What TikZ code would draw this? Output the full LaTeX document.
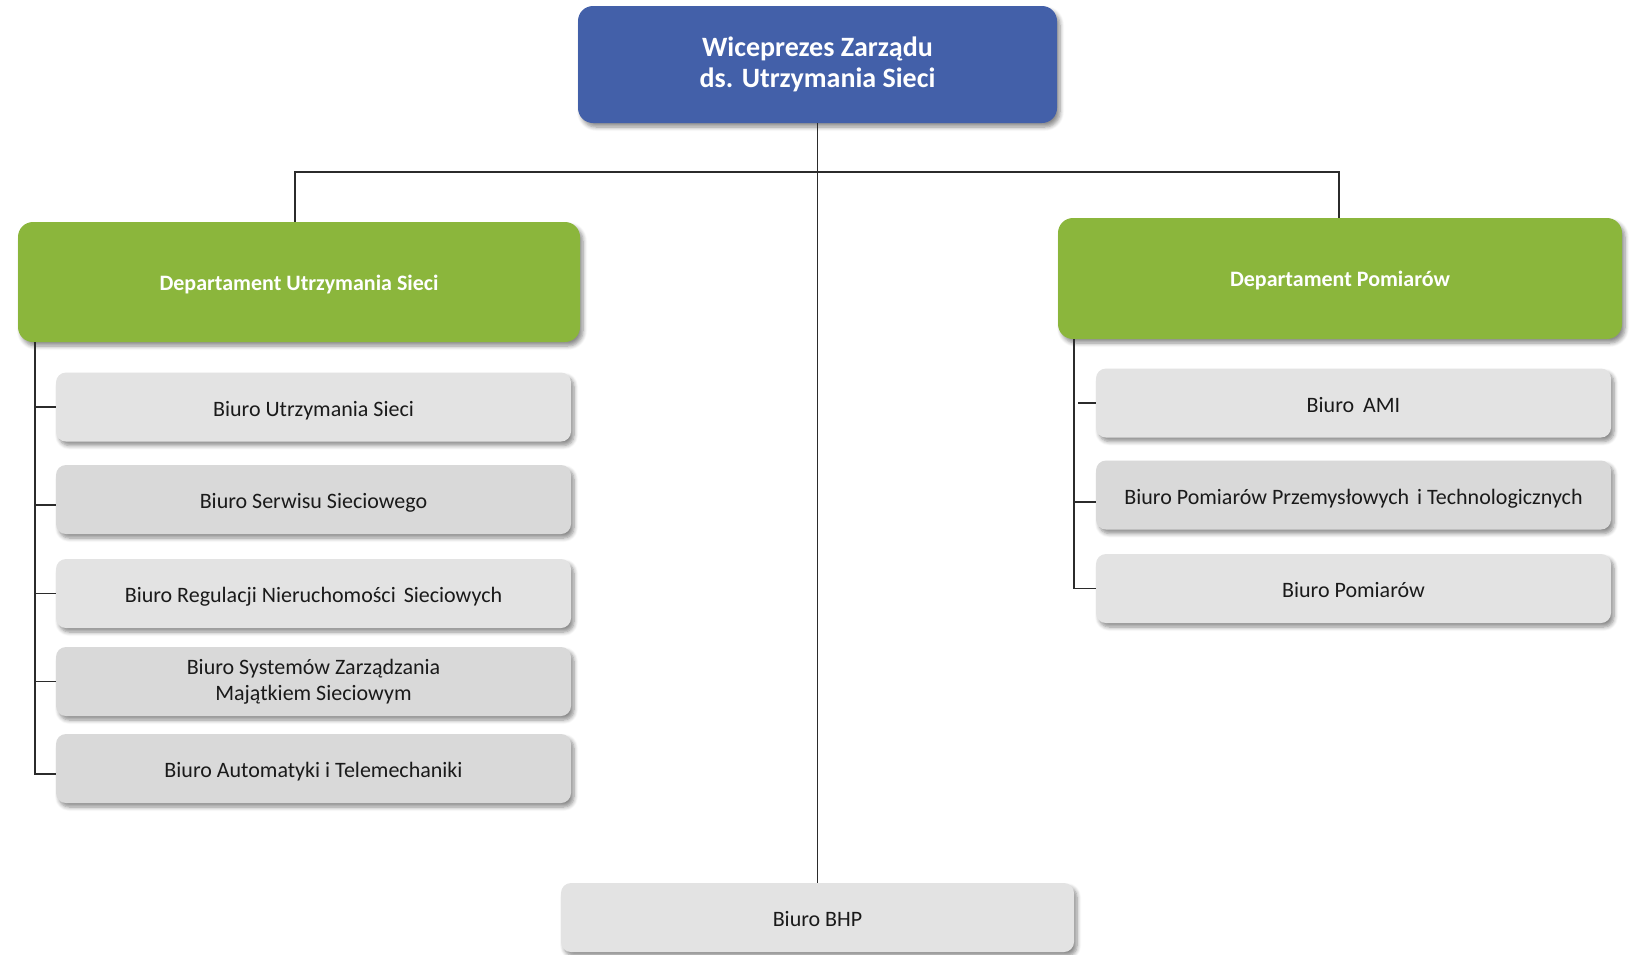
\documentclass[tikz,border=0pt]{standalone}
\usepackage{fontspec}
\setmainfont{Carlito}
\usetikzlibrary{shadows.blur,calc}
\definecolor{topblue}{HTML}{4360A9}
\definecolor{depgreen}{HTML}{8BB63C}
\definecolor{boxlight}{HTML}{E3E3E3}
\definecolor{boxdark}{HTML}{D9D9D9}
\definecolor{linec}{HTML}{2B2B2B}
\definecolor{txt}{HTML}{1A1A1A}
\tikzset{
  sh/.style={blur shadow={shadow xshift=3pt,shadow yshift=-4pt,shadow blur steps=6,shadow opacity=45,shadow blur radius=4pt}},
  topbox/.style={sh,fill=topblue,rounded corners=15pt,text=white,align=center,inner sep=0pt,
    font=\fontsize{28}{31}\selectfont\bfseries},
  depbox/.style={sh,fill=depgreen,rounded corners=15pt,text=white,align=center,inner sep=0pt,
    text height=18pt,text depth=2pt,font=\fontsize{22}{27}\selectfont\bfseries},
  grey/.style={sh,fill=boxlight,rounded corners=10pt,text=txt,align=center,inner sep=0pt,
    minimum width=515pt,minimum height=69pt,font=\fontsize{22}{26}\selectfont},
  greyd/.style={grey,fill=boxdark},
  one/.style={text height=20pt,text depth=2pt},
  conn/.style={draw=linec,line width=1.6pt}
}
\begin{document}
\begin{tikzpicture}[x=1pt,y=-1pt]
\useasboundingbox (0,0) rectangle (1634,954);
% boxes
\node[topbox,minimum width=479pt,minimum height=117pt] (top) at (817.5,64.5) {Wiceprezes Zarządu\\ds. Utrzymania Sieci};
\node[depbox,minimum width=562pt,minimum height=120pt] (dL) at (299,282) {Departament Utrzymania Sieci};
\node[depbox,minimum width=564pt,minimum height=121pt] (dR) at (1340,278.5) {Departament Pomiarów};
\node[grey,one]  (b1) at (313.5,407)   {Biuro Utrzymania Sieci};
\node[greyd,one] (b2) at (313.5,499.5) {Biuro Serwisu Sieciowego};
\node[grey,one]  (b3) at (313.5,593.5) {Biuro Regulacji Nieruchomości\hspace{3pt} Sieciowych};
\node[greyd] (b4) at (313.5,681.5) {Biuro Systemów Zarządzania\\Majątkiem Sieciowym};
\node[greyd,one] (b5) at (313.5,768.5) {Biuro Automatyki i Telemechaniki};
\node[grey,one]  (r1) at (1353.5,403)  {Biuro\hspace{4pt} AMI};
\node[greyd,one] (r2) at (1353.5,495)  {Biuro Pomiarów Przemysłowych\hspace{3pt} i Technologicznych};
\node[grey,one]  (r3) at (1353.5,588.5) {Biuro Pomiarów};
\node[grey,one,minimum width=513pt] (bhp) at (817.5,917.5) {Biuro BHP};
% connectors
\coordinate (hl) at (295,172);
\coordinate (hr) at (1339,172);
\draw[conn] (top.south) -- (bhp.north);
\draw[conn] (hl |- dL.north) -- (hl) -- (hr) -- (hr |- dR.north);
\coordinate (tl) at (35,342);
\coordinate (tr) at (1074,339);
\draw[conn] (tl) |- ($(b5.west)+(0,5.5)$);
\draw[conn] (tl |- b1.west) -- (b1.west);
\draw[conn] ($(tl |- b2.west)+(0,5.5)$) -- ($(b2.west)+(0,5.5)$);
\draw[conn] (tl |- b3.west) -- (b3.west);
\draw[conn] (tl |- b4.west) -- (b4.west);
\draw[conn] (tr) |- (r3.west);
\draw[conn] ($(tr |- r1.west)+(4,0)$) -- (r1.west);
\draw[conn] ($(tr |- r2.west)+(0,7)$) -- ($(r2.west)+(0,7)$);
\end{tikzpicture}
\end{document}
